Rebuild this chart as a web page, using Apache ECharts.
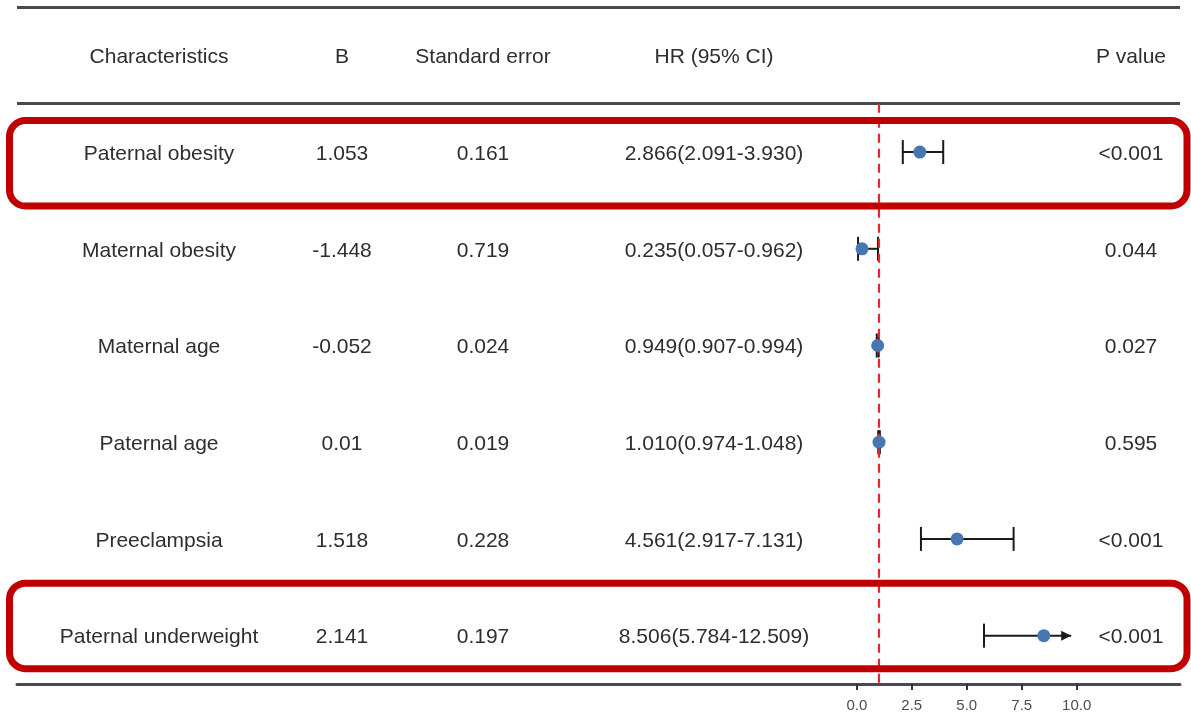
<!DOCTYPE html>
<html>
<head>
<meta charset="utf-8">
<script src="https://cdn.jsdelivr.net/npm/echarts@6/dist/echarts.min.js"></script>
<style>
  html, body { margin: 0; padding: 0; background: #ffffff; }
  #chart { width: 1191px; height: 713px; }
</style>
</head>
<body>
<div id="chart"></div>
<script>
// Cox regression results: one row per characteristic
const headers = ['Characteristics', 'B', 'Standard error', 'HR (95% CI)', 'P value'];
const characteristics = ['Paternal obesity', 'Maternal obesity', 'Maternal age', 'Paternal age', 'Preeclampsia', 'Paternal underweight'];
const bCoef = [1.053, -1.448, -0.052, 0.01, 1.518, 2.141];
const stdErr = [0.161, 0.719, 0.024, 0.019, 0.228, 0.197];
const hr = [2.866, 0.235, 0.949, 1.010, 4.561, 8.506];
const hrLow = [2.091, 0.057, 0.907, 0.974, 2.917, 5.784];
const hrHigh = [3.930, 0.962, 0.994, 1.048, 7.131, 12.509];
const pValue = ['<0.001', '0.044', '0.027', '0.595', '<0.001', '<0.001'];
const xTicks = [0, 2.5, 5, 7.5, 10];
const refLine = 1;      // HR = 1 reference
const xClip = 9.75;     // intervals beyond this end in an arrow
const highlightRows = [1, 6];

// table cells, header is row 0
const rows = [headers].concat(characteristics.map((c, i) => [
  c,
  String(bCoef[i]),
  String(stdErr[i]),
  hr[i].toFixed(3) + '(' + hrLow[i].toFixed(3) + '-' + hrHigh[i].toFixed(3) + ')',
  pValue[i]
]));

const colX = [159, 342, 483, 714, 1131];
const textFont = '21px "Liberation Sans", Arial, sans-serif';
const textColor = '#2e2e2e';

const chart = echarts.init(document.getElementById('chart'), null, { renderer: 'canvas' });

const option = {
  backgroundColor: '#ffffff',
  animation: false,
  grid: { left: 17, right: 11, top: 7, bottom: 29 },
  xAxis: {
    type: 'value',
    min: -38.2,
    max: 14.7,
    axisLine: { show: true, onZero: false, lineStyle: { color: '#4a4a4a', width: 3 } },
    axisTick: { show: true, customValues: xTicks, length: 6, lineStyle: { color: '#333', width: 2 } },
    axisLabel: {
      show: true, customValues: xTicks, margin: 14,
      formatter: v => v.toFixed(1),
      fontFamily: '"Liberation Sans", Arial, sans-serif', fontSize: 15, color: '#4d4d4d'
    },
    splitLine: { show: false }
  },
  yAxis: {
    type: 'value',
    inverse: true,
    min: -0.5,
    max: 6.5,
    show: false
  },
  series: [
    {
      // table text and horizontal rules
      type: 'custom',
      clip: false,
      silent: true,
      data: rows.map((r, i) => [0, i]),
      renderItem: (params, api) => {
        const row = api.value(1);
        const y = api.coord([0, row])[1] + 2;
        return {
          type: 'group',
          children: rows[row].map((txt, j) => ({
            type: 'text',
            x: colX[j],
            y: y,
            style: { text: txt, font: textFont, fill: textColor, align: 'center', verticalAlign: 'middle' }
          }))
        };
      },
      markLine: {
        silent: true,
        symbol: 'none',
        label: { show: false },
        lineStyle: { color: '#4a4a4a', width: 3, type: 'solid' },
        data: [{ yAxis: -0.5 }, { yAxis: 0.5 }]
      }
    },
    {
      // confidence intervals
      type: 'custom',
      clip: false,
      silent: true,
      data: hrLow.map((lo, i) => [lo, hrHigh[i], i + 1]),
      renderItem: (params, api) => {
        const lo = api.value(0), hi = api.value(1), row = api.value(2);
        const a = api.coord([lo, row]);
        const b = api.coord([Math.min(hi, xClip), row]);
        const h = 12;
        const stroke = { stroke: '#1a1a1a', lineWidth: 2 };
        const children = [
          { type: 'line', shape: { x1: a[0], y1: a[1], x2: b[0], y2: b[1] }, style: stroke },
          { type: 'line', shape: { x1: a[0], y1: a[1] - h, x2: a[0], y2: a[1] + h }, style: stroke }
        ];
        if (hi > xClip) {
          children.push({
            type: 'polygon',
            shape: { points: [[b[0], b[1]], [b[0] - 10, b[1] - 5], [b[0] - 10, b[1] + 5]] },
            style: { fill: '#1a1a1a' }
          });
        } else {
          children.push({ type: 'line', shape: { x1: b[0], y1: b[1] - h, x2: b[0], y2: b[1] + h }, style: stroke });
        }
        return { type: 'group', children };
      }
    },
    {
      // point estimates
      type: 'scatter',
      silent: true,
      symbol: 'circle',
      symbolSize: 13,
      itemStyle: { color: '#4677b0', opacity: 1 },
      z: 5,
      data: hr.map((v, i) => [v, i + 1]),
      markLine: {
        silent: true,
        symbol: 'none',
        label: { show: false },
        lineStyle: { color: '#e8262d', width: 2.2, type: [9, 6] },
        data: [[{ coord: [refLine, 0.5] }, { coord: [refLine, 6.5] }]]
      }
    }
  ]
};

chart.setOption(option);

// red highlight frames around selected rows
function drawFrames() {
  const frames = highlightRows.map(r => {
    const yc = chart.convertToPixel({ gridIndex: 0 }, [0, r])[1];
    const top = r === highlightRows[0] ? yc - 31.5 : yc - 52.5;
    return {
      type: 'rect',
      z: 100,
      silent: true,
      shape: { x: 9.5, y: top, width: 1177.5, height: 85.5, r: 16 },
      style: { fill: 'none', stroke: '#c00000', lineWidth: 7 }
    };
  });
  chart.setOption({ graphic: frames });
}
drawFrames();
</script>
</body>
</html>
